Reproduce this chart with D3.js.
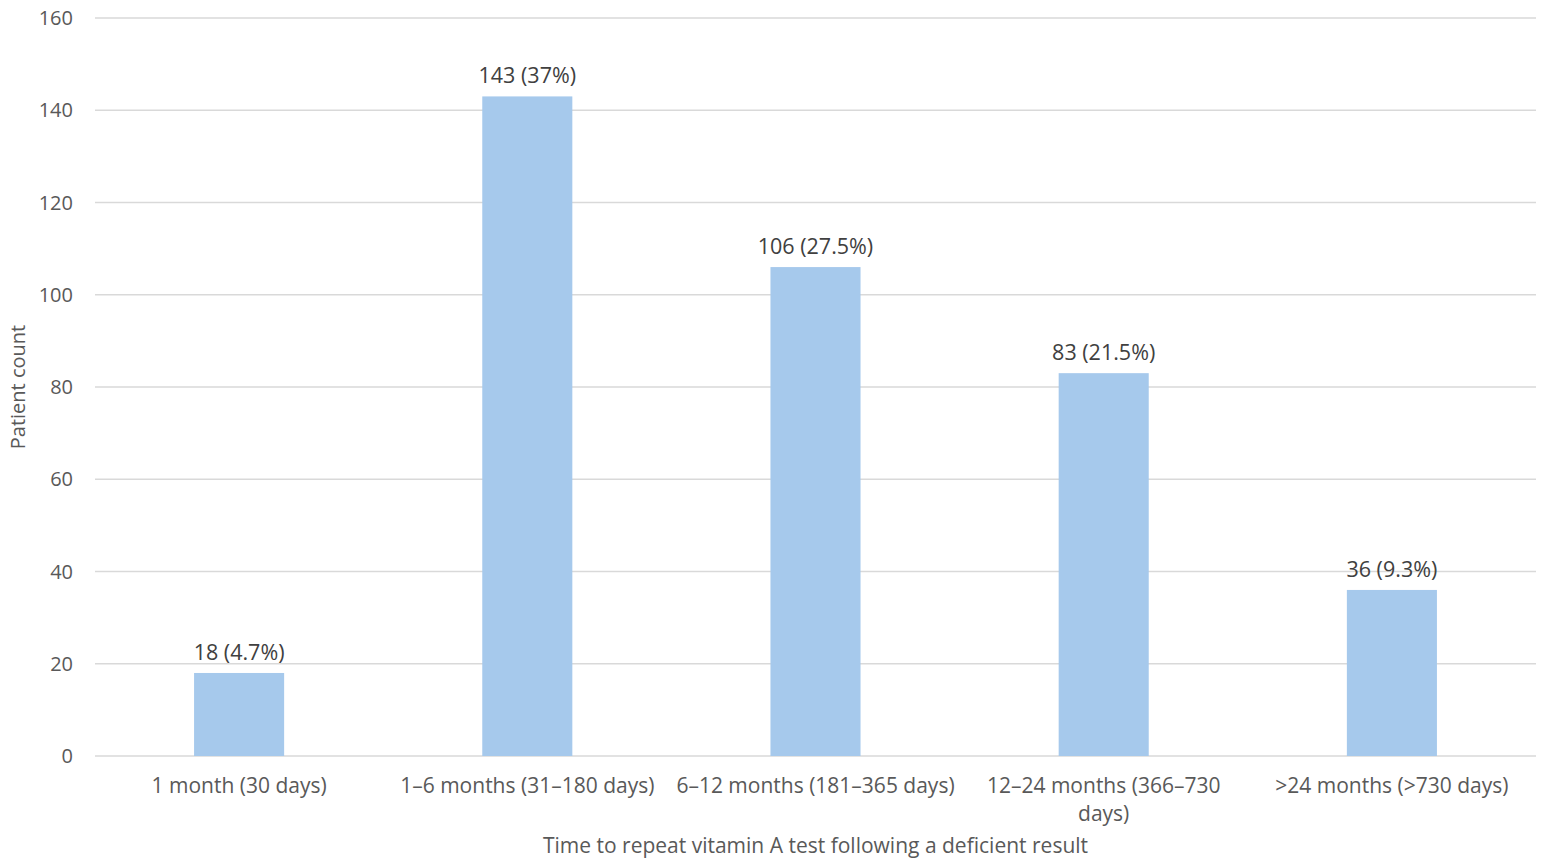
<!DOCTYPE html>
<html>
<head>
<meta charset="utf-8">
<script src="https://cdn.jsdelivr.net/npm/d3@7"></script>
<style>
  body { margin: 0; background: #fff; }
  svg text { font-family: "Open Sans", "Noto Sans", sans-serif; }
</style>
</head>
<body>
<script>
const categories = [
  "1 month (30 days)",
  "1–6 months (31–180 days)",
  "6–12 months (181–365 days)",
  "12–24 months (366–730 days)",
  ">24 months (>730 days)"
];
const counts = [18, 143, 106, 83, 36];
const percents = ["4.7%", "37%", "27.5%", "21.5%", "9.3%"];
const yTicks = [0, 20, 40, 60, 80, 100, 120, 140, 160];

const width = 1544, height = 867;
const margin = { left: 95, right: 8, top: 18, bottom: 111 };

const svg = d3.select("body").append("svg")
  .attr("width", width)
  .attr("height", height);

const x = d3.scaleBand()
  .domain(categories)
  .range([margin.left, width - margin.right])
  .paddingInner(0.6875)
  .paddingOuter(0.34375);

const y = d3.scaleLinear()
  .domain([0, 160])
  .range([height - margin.bottom, margin.top]);

// gridlines
svg.append("g")
  .selectAll("line")
  .data(yTicks)
  .enter()
  .append("line")
  .attr("x1", margin.left)
  .attr("x2", width - margin.right)
  .attr("y1", d => y(d))
  .attr("y2", d => y(d))
  .attr("stroke", "#d9d9d9")
  .attr("stroke-width", 1.3);

// y tick labels
svg.append("g")
  .selectAll("text")
  .data(yTicks)
  .enter()
  .append("text")
  .attr("x", 73)
  .attr("y", d => y(d))
  .attr("dy", "0.35em")
  .attr("text-anchor", "end")
  .attr("fill", "#595959")
  .style("font-size", "20px")
  .text(d => d);

// bars
svg.append("g")
  .selectAll("rect")
  .data(categories)
  .enter()
  .append("rect")
  .attr("x", d => x(d))
  .attr("width", x.bandwidth())
  .attr("y", (d, i) => y(counts[i]))
  .attr("height", (d, i) => y(0) - y(counts[i]))
  .attr("fill", "#a6c9ec");

// value labels
svg.append("g")
  .selectAll("text")
  .data(categories)
  .enter()
  .append("text")
  .attr("x", d => x(d) + x.bandwidth() / 2)
  .attr("y", (d, i) => y(counts[i]) - 13)
  .attr("text-anchor", "middle")
  .attr("fill", "#404040")
  .style("font-size", "21.5px")
  .text((d, i) => `${counts[i]} (${percents[i]})`);

// category labels, wrapped to the band step
const step = x.step();
svg.append("g")
  .selectAll("text")
  .data(categories)
  .enter()
  .append("text")
  .attr("text-anchor", "middle")
  .attr("fill", "#595959")
  .style("font-size", "21px")
  .each(function (d) {
    const t = d3.select(this);
    const cx = x(d) + x.bandwidth() / 2;
    const words = d.split(" ");
    let lines = [];
    let line = [];
    const tmp = t.append("tspan").attr("x", cx).attr("y", 793);
    for (const w of words) {
      line.push(w);
      tmp.text(line.join(" "));
      if (tmp.node().getComputedTextLength() > step - 4 && line.length > 1) {
        line.pop();
        lines.push(line.join(" "));
        line = [w];
      }
    }
    lines.push(line.join(" "));
    tmp.remove();
    lines.forEach((l, i) => {
      t.append("tspan")
        .attr("x", cx)
        .attr("y", 793 + i * 28)
        .text(l);
    });
  });

// axis titles
svg.append("text")
  .attr("x", (margin.left + width - margin.right) / 2)
  .attr("y", 853)
  .attr("text-anchor", "middle")
  .attr("fill", "#595959")
  .style("font-size", "21px")
  .text("Time to repeat vitamin A test following a deficient result");

svg.append("text")
  .attr("transform", `translate(25, ${(margin.top + height - margin.bottom) / 2}) rotate(-90)`)
  .attr("text-anchor", "middle")
  .attr("fill", "#595959")
  .style("font-size", "20px")
  .text("Patient count");
</script>
</body>
</html>
